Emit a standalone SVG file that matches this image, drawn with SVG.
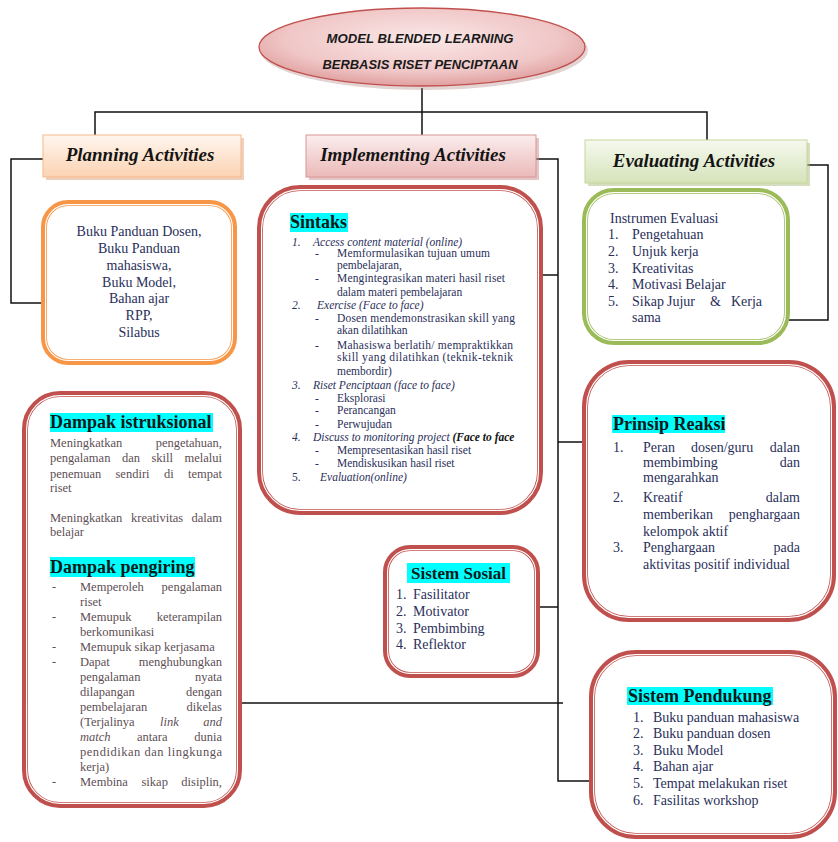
<svg xmlns="http://www.w3.org/2000/svg" width="838" height="842" viewBox="0 0 838 842">
  <defs>
    <radialGradient id="gTitle" cx="50%" cy="40%" r="60%">
      <stop offset="0" stop-color="#fbe8e8"/>
      <stop offset="0.7" stop-color="#f0c6c6"/>
      <stop offset="1" stop-color="#e0a0a0"/>
    </radialGradient>
    <linearGradient id="gPlan" x1="0" y1="0" x2="0" y2="1">
      <stop offset="0" stop-color="#fff6ef"/>
      <stop offset="1" stop-color="#fbd3b2"/>
    </linearGradient>
    <linearGradient id="gImpl" x1="0" y1="0" x2="0" y2="1">
      <stop offset="0" stop-color="#fbeeee"/>
      <stop offset="1" stop-color="#eab9b8"/>
    </linearGradient>
    <linearGradient id="gEval" x1="0" y1="0" x2="0" y2="1">
      <stop offset="0" stop-color="#f6f9ee"/>
      <stop offset="1" stop-color="#d5e3ba"/>
    </linearGradient>
    <clipPath id="clipSintaks">
      <rect x="258" y="186" width="264" height="328"/>
    </clipPath>
    <style>
      .line { fill: none; stroke: #111; stroke-width: 1.5; }
      .frame-red { fill: #fff; stroke: #c0504d; stroke-width: 6; }
      .frame-org { fill: #fff; stroke: #f79646; stroke-width: 6; }
      .frame-grn { fill: #fff; stroke: #9bbb59; stroke-width: 6; }
      .gap { fill: none; stroke: #fff; stroke-width: 1.2; }
      .hl { fill: #00ffff; }
      .serif { font-family: "Liberation Serif", "Times New Roman", serif; }
      .body { fill: #2a2f5a; }
      .soft { fill: #5e4f55; }
      .head { font-family: "Liberation Serif", "Times New Roman", serif; font-weight: bold; fill: #0d1a1a; }
      .cap { font-family: "Liberation Serif", "Times New Roman", serif; font-weight: bold; font-style: italic; font-size: 19px; fill: #141414; text-anchor: middle; }
      .f11 { font-size: 11.5px; }
      .f12 { font-size: 12.5px; }
      .f14 { font-size: 14px; }
      .it { font-style: italic; }
      .mid { text-anchor: middle; }
      .end { text-anchor: end; }
    </style>
  </defs>

  <!-- connectors -->
  <g id="connectors">
    <polyline class="line" points="422,88 422,135"/>
    <polyline class="line" points="95,135 95,112 707,112 707,140"/>
    <polyline class="line" points="43,159 11,159 11,303 42,303"/>
    <polyline class="line" points="536,159 558,159 558,781 590,781"/>
    <line class="line" x1="543" y1="275" x2="558" y2="275"/>
    <line class="line" x1="558" y1="442" x2="583" y2="442"/>
    <line class="line" x1="540" y1="607" x2="558" y2="607"/>
    <line class="line" x1="242" y1="703" x2="563" y2="703"/>
    <polyline class="line" points="807,165 828,165 828,320 789,320"/>
  </g>

  <!-- title -->
  <g id="title">
    <ellipse cx="424" cy="50" rx="164" ry="40" fill="#b08080" opacity="0.35"/>
    <ellipse cx="422" cy="47" rx="163" ry="39" fill="url(#gTitle)" stroke="#c0504d" stroke-width="1.3"/>
    <text x="420" y="43" font-family="'Liberation Sans', Arial, sans-serif" font-weight="bold" font-style="italic" font-size="13.5" fill="#1a1a1a" text-anchor="middle" textLength="187" lengthAdjust="spacingAndGlyphs">MODEL BLENDED LEARNING</text>
    <text x="420" y="69" font-family="'Liberation Sans', Arial, sans-serif" font-weight="bold" font-style="italic" font-size="13.5" fill="#1a1a1a" text-anchor="middle" textLength="195" lengthAdjust="spacingAndGlyphs">BERBASIS  RISET  PENCIPTAAN</text>
  </g>

  <!-- activity headers -->
  <g id="planning">
    <rect x="46" y="138" width="198" height="42" fill="#e0a27a" opacity="0.5"/>
    <rect x="43" y="135" width="198" height="42" fill="url(#gPlan)" stroke="#f6b98c" stroke-width="1"/>
    <text class="cap" x="140" y="161">Planning Activities</text>
  </g>
  <g id="implementing">
    <rect x="309" y="138" width="230" height="42" fill="#c88c8b" opacity="0.5"/>
    <rect x="306" y="135" width="230" height="42" fill="url(#gImpl)" stroke="#d99694" stroke-width="1"/>
    <text class="cap" x="413" y="161">Implementing Activities</text>
  </g>
  <g id="evaluating">
    <rect x="588" y="143" width="222" height="43" fill="#a9bd7f" opacity="0.5"/>
    <rect x="585" y="140" width="222" height="43" fill="url(#gEval)" stroke="#c3d69b" stroke-width="1"/>
    <text class="cap" x="694" y="167">Evaluating Activities</text>
  </g>

  <!-- planning resources -->
  <g id="planning-resources">
    <rect class="frame-org" x="44" y="203" width="190" height="159" rx="24"/>
    <rect class="gap" x="45.6" y="204.6" width="186.8" height="155.8" rx="22.5"/>
    <g class="serif body f14 mid">
      <text x="139" y="236">Buku  Panduan  Dosen,</text>
      <text x="139" y="253">Buku  Panduan</text>
      <text x="139" y="270">mahasiswa,</text>
      <text x="139" y="287">Buku  Model,</text>
      <text x="139" y="303">Bahan ajar</text>
      <text x="139" y="320">RPP,</text>
      <text x="139" y="337">Silabus</text>
    </g>
  </g>

  <!-- syntax -->
  <g id="sintaks">
    <rect class="frame-red" x="260" y="188" width="280" height="324" rx="40"/>
    <rect class="gap" x="261.6" y="189.6" width="276.8" height="320.8" rx="38.5"/>
    <rect class="hl" x="290" y="213" width="58" height="19"/>
    <text class="head" x="290" y="228" font-size="18">Sintaks</text>
    <g class="serif body f11" clip-path="url(#clipSintaks)">
      <text class="it" x="292" y="246">1.</text>
      <text class="it" x="313" y="246">Access content material (online)</text>
      <text x="315" y="257">-</text>
      <text x="337" y="257" textLength="153" lengthAdjust="spacing">Memformulasikan tujuan umum</text>
      <text x="337" y="269">pembelajaran,</text>
      <text x="315" y="282">-</text>
      <text x="337" y="282" textLength="168" lengthAdjust="spacing">Mengintegrasikan materi hasil riset</text>
      <text x="337" y="296">dalam materi pembelajaran</text>
      <text class="it" x="292" y="309">2.</text>
      <text class="it" x="317" y="309">Exercise  (Face to face)</text>
      <text x="315" y="322">-</text>
      <text x="337" y="322" textLength="178" lengthAdjust="spacing">Dosen mendemonstrasikan skill yang</text>
      <text x="337" y="334">akan dilatihkan</text>
      <text x="315" y="349">-</text>
      <text x="337" y="349" textLength="176" lengthAdjust="spacing">Mahasiswa berlatih/ mempraktikkan</text>
      <text x="337" y="361" textLength="176" lengthAdjust="spacing">skill yang dilatihkan (teknik-teknik</text>
      <text x="337" y="375">membordir)</text>
      <text class="it" x="292" y="389">3.</text>
      <text class="it" x="313" y="389">Riset Penciptaan (face to face)</text>
      <text x="315" y="402">-</text>
      <text x="337" y="402">Eksplorasi</text>
      <text x="315" y="414">-</text>
      <text x="337" y="414">Perancangan</text>
      <text x="315" y="428">-</text>
      <text x="337" y="428">Perwujudan</text>
      <text class="it" x="292" y="441">4.</text>
      <text class="it" x="313" y="441">Discuss to monitoring project <tspan font-weight="bold" fill="#111">(Face to face</tspan></text>
      <text x="315" y="454">-</text>
      <text x="337" y="454">Mempresentasikan hasil riset</text>
      <text x="315" y="467">-</text>
      <text x="337" y="467">Mendiskusikan hasil riset</text>
      <text x="292" y="481">5.</text>
      <text class="it" x="320" y="481">Evaluation(online)</text>
    </g>
  </g>

  <!-- learning impacts -->
  <g id="dampak">
    <rect class="frame-red" x="25" y="394" width="214" height="411" rx="35"/>
    <rect class="gap" x="26.6" y="395.6" width="210.8" height="407.8" rx="33.5"/>
    <rect class="hl" x="50" y="413" width="163" height="19"/>
    <text class="head" x="50" y="428" font-size="18">Dampak istruksional</text>
    <g class="serif soft f12">
      <text x="50" y="447">Meningkatkan</text>
      <text class="end" x="222" y="447">pengetahuan,</text>
      <text x="50" y="462">pengalaman</text>
      <text x="122" y="462">dan</text>
      <text x="151.5" y="462">skill</text>
      <text class="end" x="222" y="462">melalui</text>
      <text x="50" y="478">penemuan</text>
      <text x="115.5" y="478">sendiri</text>
      <text x="164" y="478">di</text>
      <text class="end" x="222" y="478">tempat</text>
      <text x="50" y="492">riset</text>
      <text x="50" y="522">Meningkatkan</text>
      <text x="131" y="522">kreativitas</text>
      <text class="end" x="222" y="522">dalam</text>
      <text x="50" y="536">belajar</text>
    </g>
    <rect class="hl" x="50" y="557" width="145" height="20"/>
    <text class="head" x="50" y="573" font-size="18">Dampak pengiring</text>
    <g class="serif soft f12">
      <text x="52" y="591">-</text>
      <text x="80" y="591">Memperoleh</text>
      <text class="end" x="222" y="591">pengalaman</text>
      <text x="80" y="606">riset</text>
      <text x="52" y="621">-</text>
      <text x="80" y="621">Memupuk</text>
      <text class="end" x="222" y="621">keterampilan</text>
      <text x="80" y="636">berkomunikasi</text>
      <text x="52" y="651">-</text>
      <text x="80" y="651">Memupuk sikap kerjasama</text>
      <text x="52" y="666">-</text>
      <text x="80" y="666">Dapat</text>
      <text class="end" x="222" y="666">menghubungkan</text>
      <text x="80" y="681">pengalaman</text>
      <text class="end" x="222" y="681">nyata</text>
      <text x="80" y="696">dilapangan</text>
      <text class="end" x="222" y="696">dengan</text>
      <text x="80" y="711">pembelajaran</text>
      <text class="end" x="222" y="711">dikelas</text>
      <text x="80" y="726">(Terjalinya</text>
      <text class="it" x="160" y="726">link</text>
      <text class="it end" x="222" y="726">and</text>
      <text class="it" x="80" y="741">match</text>
      <text x="137" y="741">antara</text>
      <text class="end" x="222" y="741">dunia</text>
      <text x="80" y="756" textLength="142" lengthAdjust="spacing">pendidikan dan lingkunga</text>
      <text x="80" y="771">kerja)</text>
      <text x="52" y="786">-</text>
      <text x="80" y="786">Membina</text>
      <text x="141.5" y="786">sikap</text>
      <text class="end" x="222" y="786">disiplin,</text>
    </g>
  </g>

  <!-- evaluation instruments -->
  <g id="instrumen">
    <rect class="frame-grn" x="585" y="191" width="202" height="151" rx="29"/>
    <rect class="gap" x="586.6" y="192.6" width="198.8" height="147.8" rx="27.5"/>
    <g class="serif body f14">
      <text x="610" y="223">Instrumen  Evaluasi</text>
      <text x="608" y="239">1.</text>
      <text x="632" y="239">Pengetahuan</text>
      <text x="608" y="256">2.</text>
      <text x="632" y="256">Unjuk  kerja</text>
      <text x="608" y="273">3.</text>
      <text x="632" y="273">Kreativitas</text>
      <text x="608" y="289">4.</text>
      <text x="632" y="289">Motivasi  Belajar</text>
      <text x="608" y="306">5.</text>
      <text x="632" y="306">Sikap</text>
      <text x="667" y="306">Jujur</text>
      <text x="710" y="306">&amp;</text>
      <text class="end" x="762" y="306">Kerja</text>
      <text x="632" y="322">sama</text>
    </g>
  </g>

  <!-- reaction principles -->
  <g id="prinsip-reaksi">
    <rect class="frame-red" x="585" y="363" width="248" height="256" rx="44"/>
    <rect class="gap" x="586.6" y="364.6" width="244.8" height="252.8" rx="42.5"/>
    <rect class="hl" x="612" y="415" width="113" height="18"/>
    <text class="head" x="613" y="430" font-size="18">Prinsip Reaksi</text>
    <g class="serif body f14">
      <text x="613" y="452">1.</text>
      <text x="643" y="452">Peran</text>
      <text x="691" y="452">dosen/guru</text>
      <text class="end" x="800" y="452">dalan</text>
      <text x="643" y="467">membimbing</text>
      <text class="end" x="800" y="467">dan</text>
      <text x="643" y="482">mengarahkan</text>
      <text x="613" y="502">2.</text>
      <text x="643" y="502">Kreatif</text>
      <text class="end" x="800" y="502">dalam</text>
      <text x="643" y="519">memberikan</text>
      <text class="end" x="800" y="519">penghargaan</text>
      <text x="643" y="536">kelompok  aktif</text>
      <text x="613" y="552">3.</text>
      <text x="643" y="552">Penghargaan</text>
      <text class="end" x="800" y="552">pada</text>
      <text x="643" y="569">aktivitas positif  individual</text>
    </g>
  </g>

  <!-- social system -->
  <g id="sistem-sosial">
    <rect class="frame-red" x="386" y="548" width="151" height="127" rx="24"/>
    <rect class="gap" x="387.6" y="549.6" width="147.8" height="123.8" rx="22.5"/>
    <rect class="hl" x="407" y="563" width="103" height="20"/>
    <text class="head mid" x="458.5" y="579" font-size="17">Sistem  Sosial</text>
    <g class="serif body f14">
      <text x="396" y="599">1.</text>
      <text x="413" y="599">Fasilitator</text>
      <text x="396" y="616">2.</text>
      <text x="413" y="616">Motivator</text>
      <text x="396" y="633">3.</text>
      <text x="413" y="633">Pembimbing</text>
      <text x="396" y="649">4.</text>
      <text x="413" y="649">Reflektor</text>
    </g>
  </g>

  <!-- support system -->
  <g id="sistem-pendukung">
    <rect class="frame-red" x="592" y="653" width="242" height="183" rx="44"/>
    <rect class="gap" x="593.6" y="654.6" width="238.8" height="179.8" rx="42.5"/>
    <rect class="hl" x="627" y="687" width="146" height="18"/>
    <text class="head" x="628" y="702" font-size="18">Sistem  Pendukung</text>
    <g class="serif body f14">
      <text x="633" y="722">1.</text>
      <text x="653" y="722">Buku  panduan  mahasiswa</text>
      <text x="633" y="738">2.</text>
      <text x="653" y="738">Buku  panduan  dosen</text>
      <text x="633" y="755">3.</text>
      <text x="653" y="755">Buku  Model</text>
      <text x="633" y="771">4.</text>
      <text x="653" y="771">Bahan ajar</text>
      <text x="633" y="788">5.</text>
      <text x="653" y="788">Tempat  melakukan riset</text>
      <text x="633" y="805">6.</text>
      <text x="653" y="805">Fasilitas  workshop</text>
    </g>
  </g>
</svg>
